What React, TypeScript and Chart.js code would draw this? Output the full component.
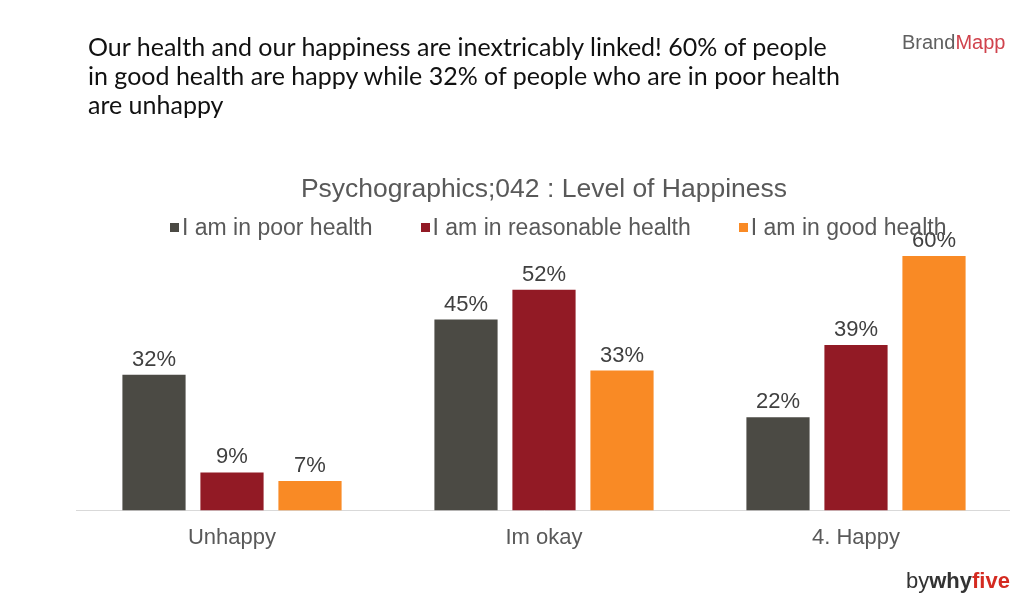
import React, { useEffect, useRef } from "react";
import { Chart, registerables } from "chart.js";

Chart.register(...registerables);

const categories = ["Unhappy", "Im okay", "4. Happy"];
const seriesNames = ["I am in poor health", "I am in reasonable health", "I am in good health"];
const poorHealth = [32, 45, 22];
const reasonableHealth = [9, 52, 39];
const goodHealth = [7, 33, 60];
const seriesColors = ["#4b4a44", "#921a25", "#f98a25"];
const chartTitle = "Psychographics;042 : Level of Happiness";
const headline = [
  "Our health and our happiness are inextricably linked! 60% of people",
  "in good health are happy while 32% of people who are in poor health",
  "are unhappy",
];

const FONT = "'Liberation Sans', Arial, sans-serif";

const valueLabels = {
  id: "valueLabels",
  afterDatasetsDraw(chart: any) {
    const ctx = chart.ctx;
    ctx.save();
    ctx.font = "22px " + FONT;
    ctx.fillStyle = "#404040";
    ctx.textAlign = "center";
    ctx.textBaseline = "alphabetic";
    chart.data.datasets.forEach((ds: any, i: number) => {
      const meta = chart.getDatasetMeta(i);
      meta.data.forEach((bar: any, j: number) => {
        ctx.fillText(ds.data[j] + "%", bar.x, bar.y - 9);
      });
    });
    ctx.restore();
  },
};

export default function App() {
  const ref = useRef<HTMLCanvasElement | null>(null);
  useEffect(() => {
    if (!ref.current) return;
    const data = [poorHealth, reasonableHealth, goodHealth];
    const chart = new Chart(ref.current, {
      type: "bar",
      data: {
        labels: categories,
        datasets: seriesNames.map((n, i) => ({
          label: n,
          data: data[i],
          backgroundColor: seriesColors[i],
          categoryPercentage: 0.75,
          barPercentage: 0.81,
        })),
      },
      options: {
        animation: false,
        responsive: false,
        maintainAspectRatio: false,
        layout: { padding: { left: 76, right: 18, top: 174, bottom: 45 } },
        plugins: {
          title: {
            display: true,
            text: chartTitle,
            color: "#595959",
            font: { size: 26.5, family: FONT, weight: "normal" },
            padding: { top: 0, bottom: 14 },
          },
          legend: { display: false },
          tooltip: { enabled: false },
        },
        scales: {
          x: {
            grid: { display: false, drawTicks: false },
            border: { color: "#d9d9d9", width: 1 },
            ticks: {
              color: "#595959",
              font: { size: 22, family: FONT },
              padding: 14,
            },
          },
          y: { display: false, min: 0, max: 68.5 },
        },
      },
      plugins: [valueLabels],
    });
    return () => chart.destroy();
  }, []);

  return (
    <div style={{ position: "fixed", left: 0, top: 0, width: 1010, height: 610, overflow: "hidden", background: "#ffffff" }}>
      <canvas ref={ref} width={1030} height={610} style={{ position: "absolute", left: 0, top: 0, width: 1030, height: 610 }} />
      <div style={{ position: "absolute", left: 88, top: 32, fontFamily: "Lato, sans-serif", fontSize: 25, lineHeight: "29px", color: "#111", whiteSpace: "nowrap" }}>
        {headline.map((l, i) => (
          <div key={i}>{l}</div>
        ))}
      </div>
      <div style={{ position: "absolute", left: 170, top: 213, display: "flex", gap: 48, fontFamily: FONT, fontSize: 23, lineHeight: "28px", color: "#595959", whiteSpace: "nowrap" }}>
        {seriesNames.map((n, i) => (
          <div key={i} style={{ display: "flex", alignItems: "center" }}>
            <span style={{ display: "inline-block", width: 9, height: 9, background: seriesColors[i], marginRight: 3 }} />
            <span>{n}</span>
          </div>
        ))}
      </div>
      <div style={{ position: "absolute", left: 902, top: 31, fontFamily: FONT, fontSize: 20, color: "#606060" }}>
        Brand<span style={{ color: "#d0434d" }}>Mapp</span>
      </div>
      <div style={{ position: "absolute", left: 906, top: 568, fontFamily: FONT, fontSize: 22, color: "#333", whiteSpace: "nowrap" }}>
        by<b>why</b><b style={{ color: "#d42a20" }}>five</b>
      </div>
    </div>
  );
}
